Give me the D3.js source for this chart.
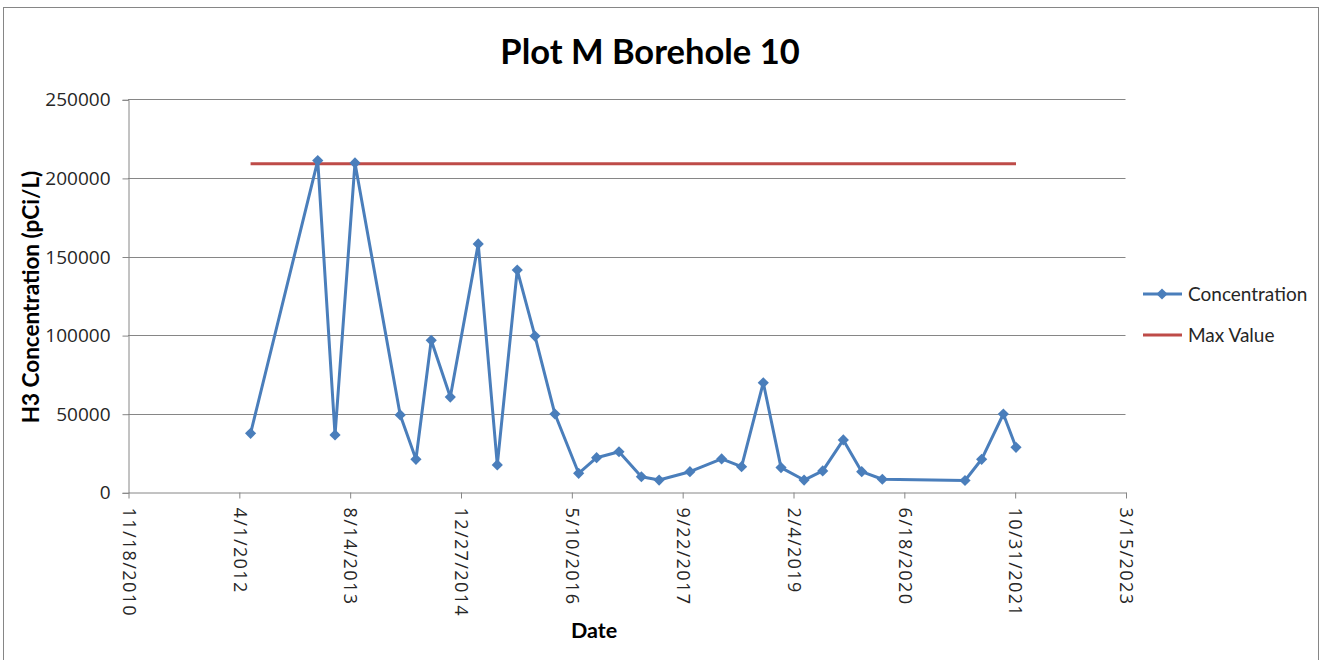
<!DOCTYPE html>
<html><head><meta charset="utf-8">
<script src="https://cdn.jsdelivr.net/npm/d3@7"></script>
<style>body{margin:0;background:#fff}svg{display:block}</style>
</head><body>
<svg id="c" width="1322" height="660"></svg>
<script>
const dates = ["2012-05-24","2013-03-23","2013-06-09","2013-09-07","2014-03-30","2014-06-09","2014-08-17","2014-11-11","2015-03-17","2015-06-11","2015-09-09","2015-11-28","2016-02-26","2016-06-12","2016-09-01","2016-12-11","2017-03-22","2017-06-10","2017-10-27","2018-03-19","2018-06-17","2018-09-23","2018-12-12","2019-03-26","2019-06-18","2019-09-19","2019-12-11","2020-03-13","2021-03-21","2021-06-04","2021-09-10","2021-11-06"];
const concentration = [37500,211000,36500,209500,49200,21000,96700,60600,158000,17400,141400,99400,49800,12100,22000,25800,9900,7800,13100,21200,16300,69700,15700,7800,13600,33300,13100,8300,7500,21000,49800,28600];
const maxValue = 209000;
const tickLabels = ["11/18/2010","4/1/2012","8/14/2013","12/27/2014","5/10/2016","9/22/2017","2/4/2019","6/18/2020","10/31/2021","3/15/2023"];
const yTicks = [0,50000,100000,150000,200000,250000];
const seriesNames = ["Concentration","Max Value"];

const parse = d3.utcParse("%Y-%m-%d");
const tickDates = tickLabels.map(d3.utcParse("%m/%d/%Y"));
const svg = d3.select("#c");
const font = "'Open Sans', 'DejaVu Sans', sans-serif";
const titleFont = "Lato, 'Open Sans', sans-serif";

svg.append("rect").attr("x",3.5).attr("y",7.5).attr("width",1315).attr("height",660)
  .attr("fill","#fff").attr("stroke","#868686");

const L=128, R=1125.5, T=99.3, B=492.3;
const x = d3.scaleUtc().domain([tickDates[0], tickDates[tickDates.length-1]]).range([L,R]);
const y = d3.scaleLinear().domain([0,250000]).range([B,T]);

// gridlines
svg.append("g").selectAll("line").data(yTicks.slice(1)).join("line")
  .attr("x1",L).attr("x2",R).attr("y1",d=>Math.round(y(d))+0.5).attr("y2",d=>Math.round(y(d))+0.5)
  .attr("stroke","#868686").attr("stroke-width",1);

// y axis
const ya = svg.append("g").attr("transform",`translate(${L+0.5},0.5)`)
  .call(d3.axisLeft(y).tickValues(yTicks).tickSize(6).tickPadding(12).tickFormat(d3.format("d")));
ya.selectAll("path,line").attr("stroke","#868686");
ya.selectAll("text").attr("font-family",font).attr("font-size",19).attr("fill","#262626");

// x axis
const xa = svg.append("g").attr("transform",`translate(0.5,${Math.round(B)+0.5})`)
  .call(d3.axisBottom(x).tickValues(tickDates).tickSize(6).tickSizeOuter(0).tickFormat((d,i)=>tickLabels[i]));
xa.selectAll("path,line").attr("stroke","#868686");
xa.selectAll("text").attr("font-family",font).attr("font-size",18).attr("letter-spacing","1.4px").attr("fill","#262626")
  .attr("transform","rotate(90)").attr("text-anchor","start").attr("dy","0.35em").attr("x",15).attr("y",0);

// max value line
svg.append("line")
  .attr("x1",x(parse(dates[0]))).attr("x2",x(parse(dates[dates.length-1])))
  .attr("y1",y(maxValue)).attr("y2",y(maxValue))
  .attr("stroke","#be4b48").attr("stroke-width",3);

// concentration line
const pts = dates.map((d,i)=>({d:parse(d),v:concentration[i]}));
svg.append("path").datum(pts)
  .attr("d",d3.line().x(p=>x(p.d)).y(p=>y(p.v)))
  .attr("fill","none").attr("stroke","#4a7ebb").attr("stroke-width",3).attr("stroke-linejoin","round");
const diamond = d3.symbol().type(d3.symbolDiamond2).size(80);
svg.append("g").selectAll("path").data(pts).join("path")
  .attr("d",diamond).attr("transform",p=>`translate(${x(p.d)},${y(p.v)})`)
  .attr("fill","#4a7ebb");

// title
svg.append("text").attr("x",650).attr("y",64).attr("text-anchor","middle")
  .attr("font-family",titleFont).attr("font-weight","bold").attr("font-size",34.5).attr("fill","#000")
  .text("Plot M Borehole 10");

// axis titles
svg.append("text").attr("transform","translate(31,297) rotate(-90)").attr("text-anchor","middle").attr("dy","0.35em")
  .attr("font-family",titleFont).attr("font-weight","bold").attr("font-size",22.5).attr("fill","#000")
  .text("H3 Concentration (pCi/L)");
svg.append("text").attr("x",594).attr("y",638).attr("text-anchor","middle")
  .attr("font-family",titleFont).attr("font-weight","bold").attr("font-size",21.5).attr("fill","#000")
  .text("Date");

// legend
const lg = svg.append("g");
const rows = [{n:seriesNames[0],c:"#4a7ebb",m:true,y:294},{n:seriesNames[1],c:"#be4b48",m:false,y:335}];
rows.forEach(r=>{
  lg.append("line").attr("x1",1143).attr("x2",1182).attr("y1",r.y).attr("y2",r.y)
    .attr("stroke",r.c).attr("stroke-width",3);
  if(r.m) lg.append("path").attr("d",diamond).attr("transform",`translate(1162,${r.y})`).attr("fill",r.c);
  lg.append("text").attr("x",1188).attr("y",r.y).attr("dy","0.35em")
    .attr("font-family",titleFont).attr("font-size",19).attr("fill","#262626").text(r.n);
});
</script>
</body></html>
